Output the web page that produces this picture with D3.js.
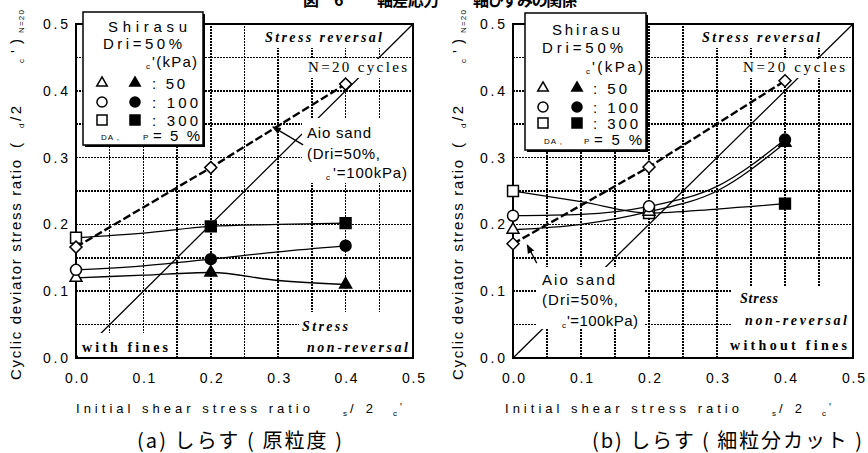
<!DOCTYPE html>
<html>
<head>
<meta charset="utf-8">
<script src="https://cdn.jsdelivr.net/npm/d3@7"></script>
<style>
  body { margin: 0; background: #fff; }
  svg { display: block; }
</style>
</head>
<body>
<svg id="chart" width="868" height="453"></svg>
<script>
// ---- values ----
const ratioTicks = [0.0, 0.1, 0.2, 0.3, 0.4, 0.5];
const gridValues = [0.05, 0.1, 0.15, 0.2, 0.25, 0.3, 0.35, 0.4, 0.45];
const refLine = [0, 0.5];              // stress reversal / non-reversal boundary
const confining = [50, 100, 300];      // sigma_c' (kPa)

const markX = [0.0, 0.2, 0.4];
const traceX = [0.0, 0.1, 0.2, 0.3, 0.4];

// (a) shirasu, with fines
const aTri = [0.120, 0.128, 0.110];
const aCirc = [0.132, 0.148, 0.168];
const aSq = [0.180, 0.197, 0.202];
const aAio = [0.166, 0.285, 0.410];
const aFilled = [false, true, true];
const aTriLine = [0.120, 0.124, 0.128, 0.116, 0.110];
const aCircLine = [0.132, 0.138, 0.148, 0.159, 0.168];
const aSqLine = [0.180, 0.187, 0.197, 0.200, 0.202];

// (b) shirasu, fines removed
const bTri = [0.192, 0.219, 0.322];
const bCirc = [0.213, 0.227, 0.327];
const bSq = [0.250, 0.217, 0.231];
const bAio = [0.171, 0.286, 0.415];
const bFilled = [false, false, true];
const bTriLine = [0.192, 0.200, 0.219, 0.250, 0.322];
const bCircLine = [0.213, 0.215, 0.227, 0.257, 0.327];
const bSqLine = [0.250, 0.234, 0.217, 0.223, 0.231];

// ---- layout ----
const PLOT_TOP = 24, PLOT_BOTTOM = 358;
const SANS = '"Liberation Sans", Arial, sans-serif';
const SERIF = '"Liberation Serif", "Times New Roman", serif';
const JP = '"Noto Sans CJK JP", sans-serif';

const svg = d3.select("#chart");

const panels = [
  {
    left: 76, right: 413,
    tri: aTri, circ: aCirc, sq: aSq, aio: aAio, filled: aFilled,
    triLine: aTriLine, circLine: aCircLine, sqLine: aSqLine,
    masks: [[262, 25, 383, 48], [305, 59, 411, 78], [302, 118, 412, 183],
            [299, 312, 412, 357], [78, 333, 173, 357]],
    arrow: [[0.337, 0.319], [0.292, 0.346]],
    notes: [
      {t: "Stress reversal", x: 265, y: 42, len: 117, f: SERIF, s: 14, w: "bold", st: "italic"},
      {t: "N=20 cycles", x: 308, y: 72, len: 99, f: SERIF, s: 15},
      {t: "Aio sand", x: 307, y: 138, len: 64, f: SANS, s: 15},
      {t: "(Dri=50%,", x: 307, y: 159, len: 73, f: SANS, s: 15},
      {t: "c", x: 326, y: 180, f: SANS, s: 8},
      {t: "'=100kPa)", x: 333, y: 178, len: 74, f: SANS, s: 15},
      {t: "Stress", x: 302, y: 331, len: 46, f: SERIF, s: 14, w: "bold", st: "italic"},
      {t: "non-reversal", x: 307, y: 352, len: 101, f: SERIF, s: 14, w: "bold", st: "italic"},
      {t: "with fines", x: 82, y: 352, len: 86, f: SERIF, s: 14, w: "bold"}
    ],
    legend: {
      box: [83, 12, 203, 145],
      head: [
        {t: "Shirasu", x: 108, y: 32, len: 79, s: 15},
        {t: "Dri=50%", x: 103, y: 49, len: 79, s: 15},
        {t: "c", x: 146, y: 69, s: 8},
        {t: "'(kPa)", x: 152, y: 67, len: 45, s: 15},
        {t: "DA ,", x: 101, y: 140, len: 18, s: 8},
        {t: "P", x: 143, y: 140, s: 8},
        {t: "=5%", x: 153, y: 141, len: 47, s: 15}
      ],
      sx: [102, 135], tx: 152, rows: [83, 102, 120], lens: [33, 46, 46]
    },
    yLabelX: 21, xLabelX: 76, caption: {t: "(a) しらす ( 原粒度 )", x: 137, len: 205}
  },
  {
    left: 513, right: 853,
    tri: bTri, circ: bCirc, sq: bSq, aio: bAio, filled: bFilled,
    triLine: bTriLine, circLine: bCircLine, sqLine: bSqLine,
    masks: [[699, 25, 823, 48], [739, 59, 851, 78], [536, 267, 644, 329],
            [732, 287, 852, 357]],
    arrow: [[0.035, 0.142], [0.021, 0.169]],
    notes: [
      {t: "Stress reversal", x: 702, y: 42, len: 118, f: SERIF, s: 14, w: "bold", st: "italic"},
      {t: "N=20 cycles", x: 743, y: 72, len: 102, f: SERIF, s: 15},
      {t: "Aio sand", x: 542, y: 285, len: 73, f: SANS, s: 15},
      {t: "(Dri=50%,", x: 542, y: 305, len: 76, f: SANS, s: 15},
      {t: "c", x: 562, y: 328, f: SANS, s: 8},
      {t: "'=100kPa)", x: 567, y: 326, len: 71, f: SANS, s: 15},
      {t: "Stress", x: 740, y: 303, len: 38, f: SERIF, s: 14, w: "bold", st: "italic"},
      {t: "non-reversal", x: 745, y: 325, len: 102, f: SERIF, s: 14, w: "bold", st: "italic"},
      {t: "without fines", x: 730, y: 350, len: 117, f: SERIF, s: 14, w: "bold"}
    ],
    legend: {
      box: [525, 13, 646, 150],
      head: [
        {t: "Shirasu", x: 552, y: 35, len: 68, s: 15},
        {t: "Dri=50%", x: 542, y: 53, len: 81, s: 15},
        {t: "c", x: 586, y: 74, s: 8},
        {t: "'(kPa)", x: 592, y: 72, len: 51, s: 15},
        {t: "DA ,", x: 544, y: 144, len: 18, s: 8},
        {t: "P", x: 584, y: 144, s: 8},
        {t: "=5%", x: 594, y: 145, len: 48, s: 15}
      ],
      sx: [543, 577], tx: 593, rows: [88, 107, 123], lens: [34, 45, 45]
    },
    yLabelX: 463, xLabelX: 505, caption: {t: "(b) しらす ( 細粒分カット )", x: 592, len: 270}
  }
];

// arrow head
svg.append("defs").append("marker")
  .attr("id", "head").attr("viewBox", "0 0 10 10")
  .attr("refX", 9).attr("refY", 5)
  .attr("markerWidth", 9).attr("markerHeight", 9)
  .attr("markerUnits", "userSpaceOnUse")
  .attr("orient", "auto")
  .append("path").attr("d", "M0,1 L10,5 L0,9 Z").attr("fill", "#000");

const symbols = {
  tri: d3.symbol(d3.symbolTriangle, 62),
  circ: d3.symbol(d3.symbolCircle, 95),
  sq: d3.symbol(d3.symbolSquare, 118),
  dia: d3.symbol(d3.symbolSquare, 72)
};
const legendSymbols = [
  d3.symbol(d3.symbolTriangle, 48),
  d3.symbol(d3.symbolCircle, 80),
  d3.symbol(d3.symbolSquare, 100)
];

function addText(g, d, family) {
  const t = g.append("text")
    .attr("x", d.x).attr("y", d.y)
    .attr("font-family", d.f || family)
    .attr("font-size", d.s)
    .attr("font-weight", d.w || "normal")
    .attr("font-style", d.st || "normal")
    .attr("fill", "#000")
    .text(d.t);
  if (d.len) t.attr("textLength", d.len).attr("lengthAdjust", "spacing");
  return t;
}

function drawPanel(p) {
  const x = d3.scaleLinear().domain([0, 0.5]).range([p.left, p.right]);
  const y = d3.scaleLinear().domain([0, 0.5]).range([PLOT_BOTTOM, PLOT_TOP]);
  const g = svg.append("g");

  // dotted grid every 0.05
  const grid = g.append("g")
    .attr("stroke", "#000").attr("stroke-width", 1.5)
    .attr("stroke-dasharray", "2,1").attr("shape-rendering", "crispEdges");
  grid.selectAll("line.v").data(gridValues).join("line").attr("class", "v")
    .attr("x1", d => x(d)).attr("x2", d => x(d))
    .attr("y1", y(0)).attr("y2", y(0.5));
  grid.selectAll("line.h").data(gridValues).join("line").attr("class", "h")
    .attr("y1", d => y(d)).attr("y2", d => y(d))
    .attr("x1", x(0)).attr("x2", x(0.5));

  // boundary line
  g.append("line")
    .attr("x1", x(refLine[0])).attr("y1", y(refLine[0]))
    .attr("x2", x(refLine[1])).attr("y2", y(refLine[1]))
    .attr("stroke", "#000").attr("stroke-width", 1.3);

  // white patches under annotation text
  g.selectAll("rect.mask").data(p.masks).join("rect").attr("class", "mask")
    .attr("x", d => d[0]).attr("y", d => d[1])
    .attr("width", d => d[2] - d[0]).attr("height", d => d[3] - d[1])
    .attr("fill", "#fff");

  // frame
  g.append("rect")
    .attr("x", x(0)).attr("y", y(0.5))
    .attr("width", x(0.5) - x(0)).attr("height", y(0) - y(0.5))
    .attr("fill", "none").attr("stroke", "#000").attr("stroke-width", 2);

  // axes
  const fmt = d3.format(".1f");
  const xAxis = g.append("g").attr("transform", `translate(0,${y(0)})`)
    .call(d3.axisBottom(x).tickValues(ratioTicks).tickFormat(fmt).tickSize(0).tickPadding(15));
  xAxis.select(".domain").remove();
  xAxis.attr("font-family", SANS).attr("font-size", 14);
  xAxis.selectAll("text").attr("fill", "#000").attr("textLength", 23).attr("lengthAdjust", "spacing");

  const yAxis = g.append("g").attr("transform", `translate(${x(0)},0)`)
    .call(d3.axisLeft(y).tickValues(ratioTicks).tickFormat(fmt).tickSize(0).tickPadding(8));
  yAxis.select(".domain").remove();
  yAxis.attr("font-family", SANS).attr("font-size", 14);
  yAxis.selectAll("text").attr("fill", "#000").attr("textLength", 25).attr("lengthAdjust", "spacing");

  // measured curves
  const smooth = d3.line().x(d => x(d[0])).y(d => y(d[1])).curve(d3.curveMonotoneX);
  [p.sqLine, p.triLine, p.circLine].forEach(vals => {
    g.append("path")
      .datum(traceX.map((v, i) => [v, vals[i]]))
      .attr("d", smooth)
      .attr("fill", "none").attr("stroke", "#000").attr("stroke-width", 1.3);
  });

  // Aio sand reference (dashed)
  const straight = d3.line().x(d => x(d[0])).y(d => y(d[1]));
  g.append("path")
    .datum(markX.map((v, i) => [v, p.aio[i]]))
    .attr("d", straight)
    .attr("fill", "none").attr("stroke", "#000")
    .attr("stroke-width", 2.4).attr("stroke-dasharray", "8,3");

  // markers
  const series = [["sq", p.sq], ["tri", p.tri], ["circ", p.circ]];
  series.forEach(([shape, vals]) => {
    g.selectAll(null).data(markX.map((v, i) => [v, vals[i], p.filled[i]])).join("path")
      .attr("d", symbols[shape]())
      .attr("transform", d => `translate(${x(d[0])},${y(d[1])})`)
      .attr("fill", d => d[2] ? "#000" : "#fff")
      .attr("stroke", "#000").attr("stroke-width", 1.5);
  });
  g.selectAll(null).data(markX.map((v, i) => [v, p.aio[i]])).join("path")
    .attr("d", symbols.dia())
    .attr("transform", d => `translate(${x(d[0])},${y(d[1])}) rotate(45)`)
    .attr("fill", "#fff").attr("stroke", "#000").attr("stroke-width", 1.5);

  // legend
  const L = p.legend;
  const lg = g.append("g");
  lg.append("rect")
    .attr("x", L.box[0] + 2).attr("y", L.box[1] + 2)
    .attr("width", L.box[2] - L.box[0]).attr("height", L.box[3] - L.box[1])
    .attr("fill", "#000");
  lg.append("rect")
    .attr("x", L.box[0]).attr("y", L.box[1])
    .attr("width", L.box[2] - L.box[0]).attr("height", L.box[3] - L.box[1])
    .attr("fill", "#fff").attr("stroke", "#000").attr("stroke-width", 1.5);
  L.head.forEach(d => addText(lg, d, SANS));
  confining.forEach((c, i) => {
    [false, true].forEach((solid, k) => {
      lg.append("path")
        .attr("d", legendSymbols[i]())
        .attr("transform", `translate(${L.sx[k]},${L.rows[i]})`)
        .attr("fill", solid ? "#000" : "#fff")
        .attr("stroke", "#000").attr("stroke-width", 1.5);
    });
    addText(lg, {t: ": " + c, x: L.tx, y: L.rows[i] + 6, len: L.lens[i], s: 15}, SANS);
  });

  // annotations
  p.notes.forEach(d => addText(g, d, SANS));
  g.append("line")
    .attr("x1", x(p.arrow[0][0])).attr("y1", y(p.arrow[0][1]))
    .attr("x2", x(p.arrow[1][0])).attr("y2", y(p.arrow[1][1]))
    .attr("stroke", "#000").attr("stroke-width", 1.3)
    .attr("marker-end", "url(#head)");

  // y axis title (rotated)
  const yl = g.append("g").attr("transform", `translate(${p.yLabelX},380) rotate(-90)`);
  [
    {t: "Cyclic deviator stress ratio", x: 0, y: 0, len: 220, s: 15},
    {t: "(", x: 232, y: 0, s: 15},
    {t: "d", x: 252, y: 3, s: 8},
    {t: "/2", x: 259, y: 0, len: 15, s: 15},
    {t: "c", x: 317, y: 3, s: 8},
    {t: "'", x: 327, y: 0, s: 15},
    {t: ")", x: 336, y: 0, s: 15},
    {t: "N=20", x: 347, y: 3, len: 23, s: 8}
  ].forEach(d => addText(yl, d, SANS));

  // x axis title
  const xl = g.append("g").attr("transform", `translate(${p.xLabelX},0)`);
  [
    {t: "Initial shear stress ratio", x: 0, y: 413, len: 234, s: 13},
    {t: "s", x: 267, y: 416, s: 8},
    {t: "/2", x: 274, y: 413, len: 23, s: 13},
    {t: "c", x: 317, y: 416, s: 8},
    {t: "'", x: 324, y: 411, s: 10}
  ].forEach(d => addText(xl, d, SANS));

  // caption
  addText(g, {t: p.caption.t, x: p.caption.x, y: 448, len: p.caption.len, s: 20}, JP);
}

panels.forEach(drawPanel);

// figure title, cut off by the top edge of the scan
[
  {t: "図", x: 303, y: 6, s: 16, w: "bold"},
  {t: "6", x: 334, y: 6, s: 16, w: "bold"},
  {t: "軸差応力", x: 377, y: 6, len: 62, s: 16, w: "bold"},
  {t: "軸ひずみの関係", x: 473, y: 6, len: 104, s: 16, w: "bold"}
].forEach(d => addText(svg, d, JP));
</script>
</body>
</html>
